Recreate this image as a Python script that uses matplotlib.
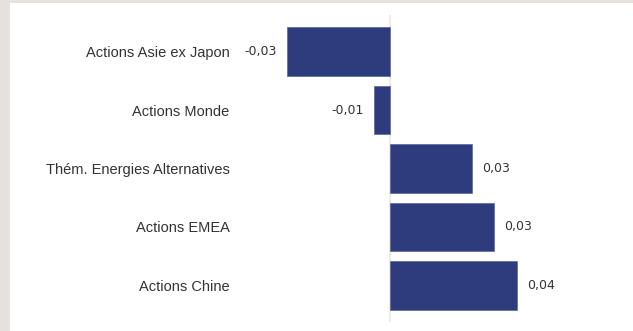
import matplotlib
matplotlib.use("Agg")
import matplotlib.pyplot as plt
from matplotlib.patches import Rectangle

categories = ["Actions Asie ex Japon", "Actions Monde", "Thém. Energies Alternatives",
              "Actions EMEA", "Actions Chine"]
values = [-0.0344, -0.0052, 0.0273, 0.0346, 0.0422]
value_labels = ["-0,03", "-0,01", "0,03", "0,03", "0,04"]

W, H = 633, 331
fig = plt.figure(figsize=(W / 100, H / 100), dpi=100)
fig.patch.set_facecolor("#e6e1dc")
fig.patches.append(Rectangle((10 / W, 0), 1 - 10 / W, 1 - 3 / H, transform=fig.transFigure,
                             facecolor="white", edgecolor="none", zorder=-5))

ax_left, ax_right, ax_top, ax_bot = 238, 600, 15, 322
ax = fig.add_axes([ax_left / W, 1 - ax_bot / H, (ax_right - ax_left) / W, (ax_bot - ax_top) / H])
ax.set_zorder(2)
ax.set_facecolor("none")

zero_px = 390
ppu = 3000.0
ax.set_xlim((ax_left - zero_px) / ppu, (ax_right - zero_px) / ppu)
ax.set_ylim(4.624, -0.624)

y = list(range(len(categories)))
ax.axvline(0, color="#e8e8e8", lw=1.2, zorder=1)
ax.barh(y, values, height=0.83, color="#2e3c7e", edgecolor="#5a66a0", linewidth=0.5, zorder=2)

for yi, v, lab in zip(y, values, value_labels):
    off = 7.5 if v >= 0 else -7.5
    ax.annotate(lab, (v, yi), xytext=(off, 0), textcoords="offset points",
                ha="left" if v >= 0 else "right", va="center",
                fontsize=9, color="#333333", family="DejaVu Sans")

ax.set_yticks(y)
ax.set_yticklabels(categories, fontsize=10.5, color="#333333", family="Liberation Sans")
ax.tick_params(axis="y", length=0, pad=6)
ax.set_xticks([])
for s in ax.spines.values():
    s.set_visible(False)

fig.savefig("out.png", dpi=100, facecolor=fig.get_facecolor())
